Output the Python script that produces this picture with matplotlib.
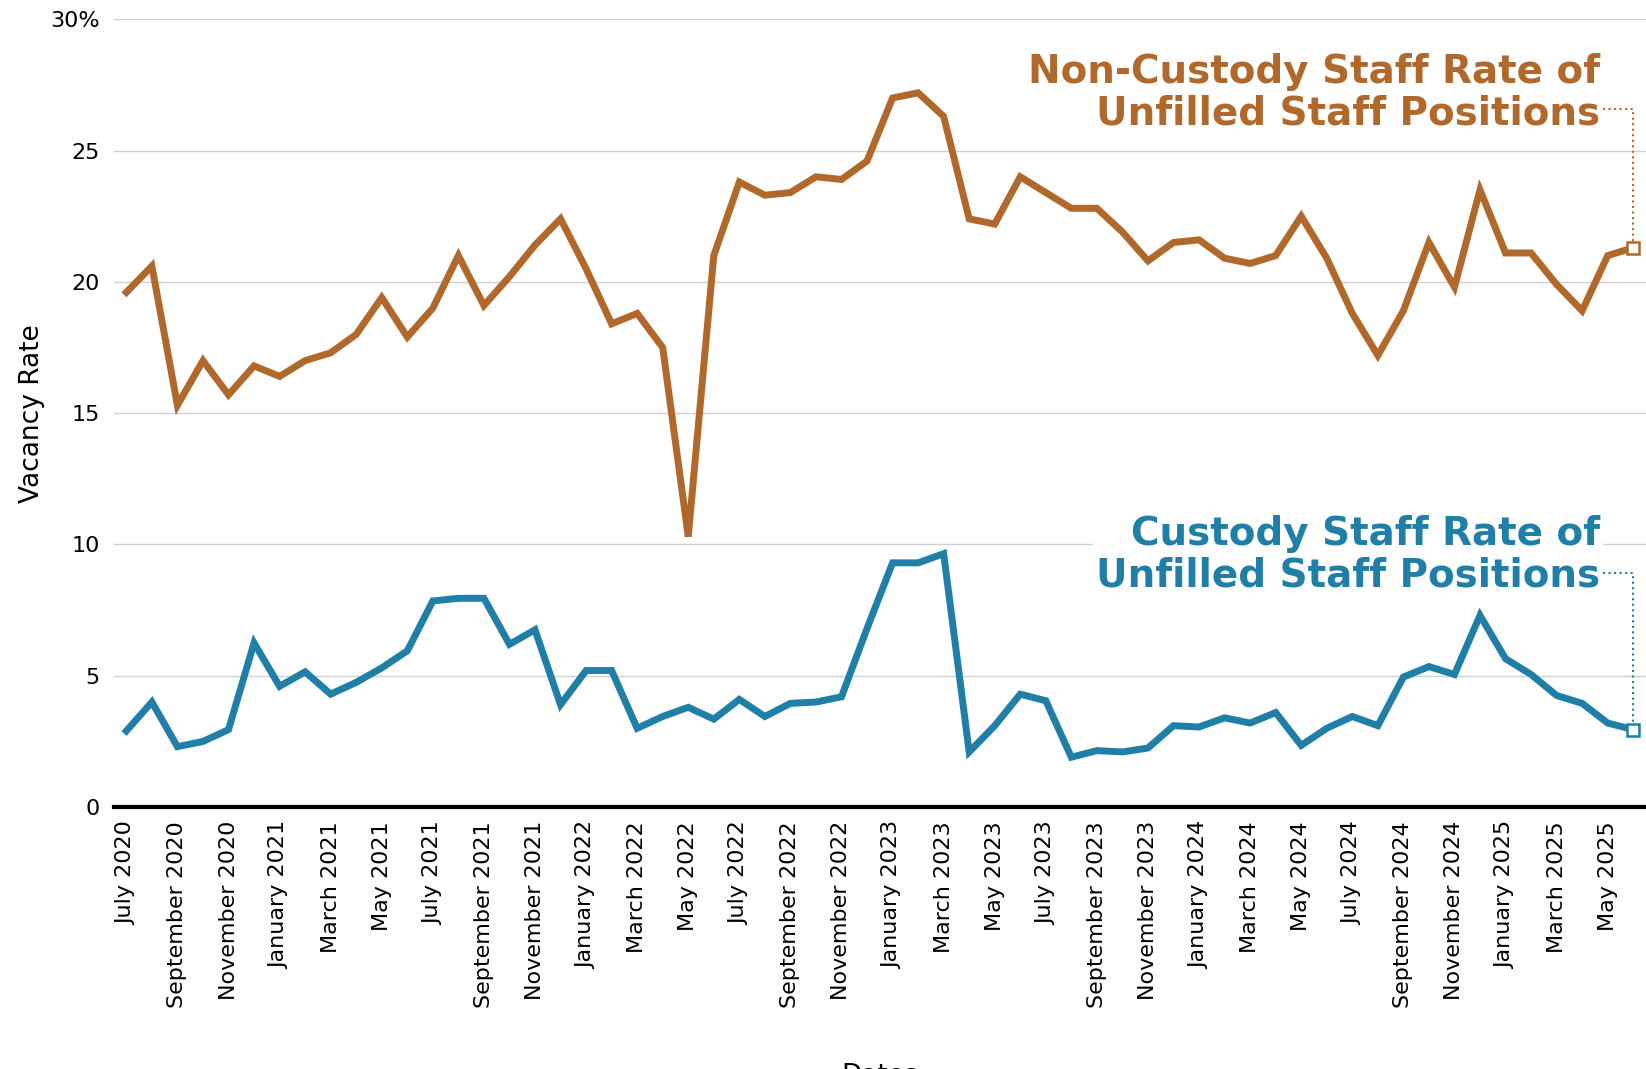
import matplotlib.pyplot as plt
import numpy as np

plt.rcParams['font.family'] = ['DejaVu Sans Condensed', 'DejaVu Sans']

months = ['January', 'February', 'March', 'April', 'May', 'June', 'July',
          'August', 'September', 'October', 'November', 'December']
dates = []
for i in range(60):
    m = (6 + i) % 12
    y = 2020 + (6 + i) // 12
    dates.append(f'{months[m]} {y}')

non_custody = [19.6, 20.6, 15.3, 17.0, 15.7, 16.8,
               16.4, 17.0, 17.3, 18.0, 19.4, 17.9, 19.0, 21.0, 19.1, 20.2, 21.4, 22.4,
               20.5, 18.4, 18.8, 17.5, 10.3, 21.0, 23.8, 23.3, 23.4, 24.0, 23.9, 24.6,
               27.0, 27.2, 26.3, 22.4, 22.2, 24.0, 23.4, 22.8, 22.8, 21.9, 20.8, 21.5,
               21.6, 20.9, 20.7, 21.0, 22.5, 20.9, 18.8, 17.2, 18.9, 21.5, 19.8, 23.5,
               21.1, 21.1, 19.9, 18.9, 21.0, 21.3]
custody = [2.9, 4.0, 2.3, 2.5, 2.95, 6.25,
           4.6, 5.15, 4.3, 4.75, 5.3, 5.95, 7.85, 7.95, 7.95, 6.2, 6.75, 3.9,
           5.2, 5.2, 3.0, 3.45, 3.8, 3.35, 4.1, 3.45, 3.95, 4.0, 4.2, 6.8,
           9.3, 9.3, 9.65, 2.1, 3.1, 4.3, 4.05, 1.9, 2.15, 2.1, 2.25, 3.1,
           3.05, 3.4, 3.2, 3.6, 2.35, 3.0, 3.45, 3.1, 4.95, 5.35, 5.05, 7.3,
           5.65, 5.05, 4.25, 3.95, 3.2, 2.95]

brown = '#b0692a'
blue = '#1f7fa6'

fig = plt.figure(figsize=(16.46, 10.69), dpi=100)
ax = fig.add_axes([0.069, 0.245, 0.931, 0.737])
x = np.arange(len(dates))

ax.plot(x, non_custody, color=brown, lw=5, solid_joinstyle='miter')
ax.plot(x, custody, color=blue, lw=5, solid_joinstyle='miter')
ax.plot(x[-1], non_custody[-1], 's', ms=9, mfc='white', mec=brown, mew=1.8, zorder=5)
ax.plot(x[-1], custody[-1], 's', ms=9, mfc='white', mec=blue, mew=1.8, zorder=5)

# labels with dotted leaders
ax.text(57.7, 25.7, 'Non-Custody Staff Rate of\nUnfilled Staff Positions', color=brown,
        fontsize=28, fontweight='bold', ha='right', va='bottom', linespacing=1.1)
ax.plot([57.8, 59, 59], [26.6, 26.6, non_custody[-1] + 0.25], ':', color=brown, lw=1.5)
ax.text(57.7, 8.1, 'Custody Staff Rate of\nUnfilled Staff Positions', color=blue,
        fontsize=28, fontweight='bold', ha='right', va='bottom', linespacing=1.1,
        bbox=dict(facecolor='white', edgecolor='none', pad=2))
ax.plot([57.8, 59, 59], [8.9, 8.9, custody[-1] + 0.25], ':', color=blue, lw=1.5)

ax.set_xlim(-0.5, 59.5)
ax.set_ylim(0, 30)
ax.set_yticks(range(0, 31, 5))
ax.set_yticklabels(['0', '5', '10', '15', '20', '25', '30%'], fontsize=16)
ax.set_xticks(x[::2])
ax.set_xticklabels(dates[::2], rotation=90, fontsize=16)
ax.tick_params(length=0, pad=10)
ax.yaxis.grid(True, color='#d0d0d0', lw=1)
ax.set_axisbelow(True)
for s in ['top', 'right', 'left']:
    ax.spines[s].set_visible(False)
ax.spines['bottom'].set_linewidth(3)
ax.spines['bottom'].set_color('black')
ax.set_ylabel('Vacancy Rate', fontsize=19)
ax.set_xlabel('Dates', fontsize=19, labelpad=40)

fig.savefig('out.png', dpi=100)
